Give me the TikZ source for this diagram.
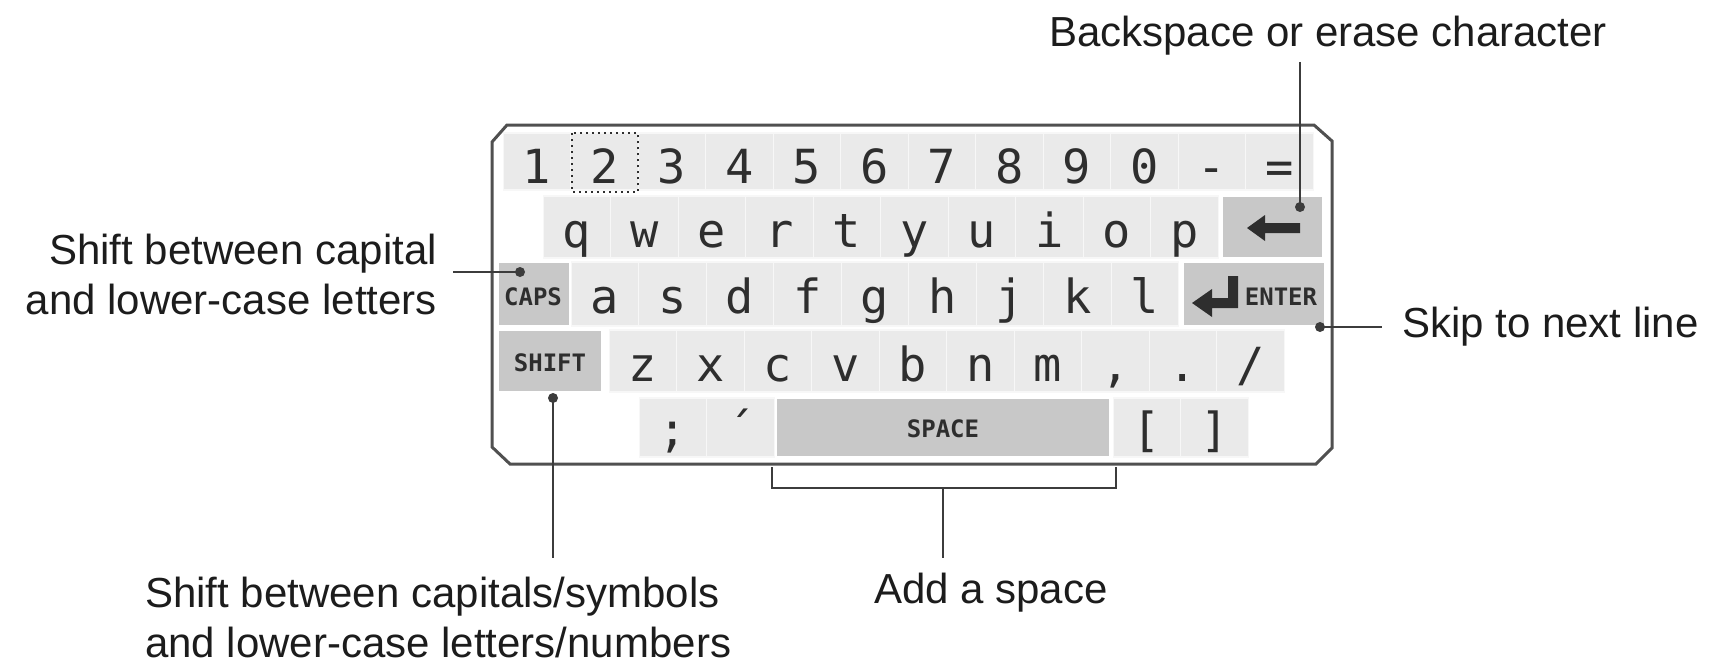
\documentclass[tikz,border=0pt]{standalone}
\usepackage{fontspec}
\setmainfont{Liberation Sans}
\newfontfamily\keyfam{DejaVu Sans Mono}
\newfontfamily\tagfam{DejaVu Sans Mono}
\definecolor{keyc}{HTML}{EAEAEA}
\definecolor{spc}{HTML}{C8C8C8}
\definecolor{framec}{HTML}{505050}
\definecolor{linec}{HTML}{3C3C3C}
\definecolor{txtc}{HTML}{1C1C1C}
\definecolor{glyc}{HTML}{2E2E2E}
\begin{document}
\begin{tikzpicture}[x=1pt,y=-1pt,
  lbl/.style={font=\fontsize{42}{50}\selectfont, text=txtc, inner sep=0pt},
  keycell/.style={fill=keyc, draw=white!60!keyc, line width=1.2pt, inner sep=0pt},
  spkey/.style={fill=spc, draw=white, line width=1.2pt, inner sep=0pt},
  glyph/.style={font=\keyfam\fontsize{47}{47}\selectfont, text=glyc, anchor=base, inner sep=0pt},
  tagtxt/.style={font=\tagfam\bfseries\fontsize{24}{24}\selectfont, text=glyc, inner sep=0pt},
  conn/.style={draw=linec, line width=2.5pt},
  dotc/.style={fill=linec}]
\useasboundingbox (0,0) rectangle (1733,672);

% keyboard frame
\draw[framec, line width=3pt, fill=white] (492,142) -- (507,125) -- (1314,125) -- (1332,141) -- (1332,448) -- (1316,464) -- (510,464) -- (492,447) -- cycle;

% row 1
\foreach \t [count=\i from 0] in {1,2,3,4,5,6,7,8,9,0,-,=} {
  \node[keycell, minimum width=67.5pt, minimum height=57pt] (r1k\i) at ({537+67.5*\i},161.5) {};
  \node[glyph] (r1g\i) at ({537+67.5*\i},183) {\t};
}
\draw[glyc, line width=2pt, dash pattern=on 2pt off 4pt] (572,133) rectangle (638,192);

% row 2
\foreach \t [count=\i from 0] in {q,w,e,r,t,y,u,i,o,p} {
  \node[keycell, minimum width=67.5pt, minimum height=62pt] (r2k\i) at ({577+67.5*\i},227) {};
  \node[glyph] (r2g\i) at ({577+67.5*\i},247) {\t};
}
\node[spkey, minimum width=101pt, minimum height=62pt] (bksp) at (1272.5,227) {};
\fill[glyc] (1247,228) -- (1265,215) -- (1265,223) -- (1300,223) -- (1300,233) -- (1265,233) -- (1265,241) -- cycle;

% row 3
\node[spkey, minimum width=72pt, minimum height=64pt] (caps) at (534,294) {};
\node[tagtxt] at (533,297) {CAPS};
\foreach \t [count=\i from 0] in {a,s,d,f,g,h,j,k,l} {
  \node[keycell, minimum width=67.5pt, minimum height=64pt] (r3k\i) at ({605+67.5*\i},294) {};
  \node[glyph] (r3g\i) at ({605+67.5*\i},313) {\t};
}
\node[spkey, minimum width=142pt, minimum height=64pt] (enter) at (1254,294) {};
\fill[glyc] (1192,303) -- (1212,289) -- (1212,298) -- (1228,298) -- (1228,276) -- (1238,276) -- (1238,308) -- (1212,308) -- (1212,317) -- cycle;
\node[tagtxt] at (1281,297) {ENTER};

% row 4
\node[spkey, minimum width=104pt, minimum height=62pt] (shift) at (550,361) {};
\node[tagtxt] at (550,363) {SHIFT};
\foreach \t [count=\i from 0] in {z,x,c,v,b,n,m} {
  \node[keycell, minimum width=67.5pt, minimum height=62pt] (r4k\i) at ({643+67.5*\i},361) {};
  \node[glyph] (r4g\i) at ({643+67.5*\i},381) {\t};
}
\node[keycell, minimum width=67.5pt, minimum height=62pt] (r4k7) at (1115.5,361) {};
\node[glyph] at (1115.5,381) {,};
\node[keycell, minimum width=67.5pt, minimum height=62pt] (r4k8) at (1183,361) {};
\node[glyph] at (1183,381) {.};
\node[keycell, minimum width=67.5pt, minimum height=62pt] (r4k9) at (1250.5,361) {};
\node[glyph] at (1250.5,381) {/};

% row 5
\node[keycell, minimum width=67.5pt, minimum height=59pt] (semi) at (673,427.5) {};
\node[glyph] at (673,446) {;};
\node[keycell, minimum width=67.5pt, minimum height=59pt] (apos) at (740.5,427.5) {};
\node[glyph] at (740.5,446) {´};
\node[spkey, minimum width=334pt, minimum height=59pt] (space) at (943,427.5) {};
\node[tagtxt] at (943,429) {SPACE};
\node[keycell, minimum width=67.5pt, minimum height=59pt] (lbr) at (1147,427.5) {};
\node[glyph] at (1147,446) {[};
\node[keycell, minimum width=67.5pt, minimum height=59pt] (rbr) at (1214.5,427.5) {};
\node[glyph] at (1214.5,446) {]};

% labels
\node[lbl] (bstext) at (1328,36) {Backspace or erase character};
\node[lbl, align=right, anchor=east] (capstext) at (437,274) {Shift between capital\\and lower-case letters};
\node[lbl, anchor=west] (skiptext) at (1402,327) {Skip to next line};
\node[lbl, align=left, anchor=west] (shifttext) at (145,617) {Shift between capitals/symbols\\and lower-case letters/numbers};
\node[lbl] (addtext) at (991,593) {Add a space};

% connectors
\coordinate (bsdot) at (1300,207);
\draw[conn] (bsdot |- bstext.south) ++(0,6) -- (bsdot);
\fill[dotc] (bsdot) circle (5pt);

\coordinate (capsdot) at (520,272);
\draw[conn] ([xshift=16pt]capstext.east |- capsdot) -- (capsdot);
\fill[dotc] (capsdot) circle (5pt);

\coordinate (entdot) at (1320,327);
\draw[conn] (entdot) -- ([xshift=-20pt]skiptext.west);
\fill[dotc] (entdot) circle (5pt);

\coordinate (shdot) at (553,398);
\draw[conn] (shdot) -- (shdot |- 0,558);
\fill[dotc] (shdot) circle (5pt);

\coordinate (brl) at (772,467);
\coordinate (brr) at (1116,467);
\draw[conn] (brl) -- (772,488) -- (1116,488) -- (brr);
\draw[conn] (943,488) -- (943,558);
\end{tikzpicture}
\end{document}
